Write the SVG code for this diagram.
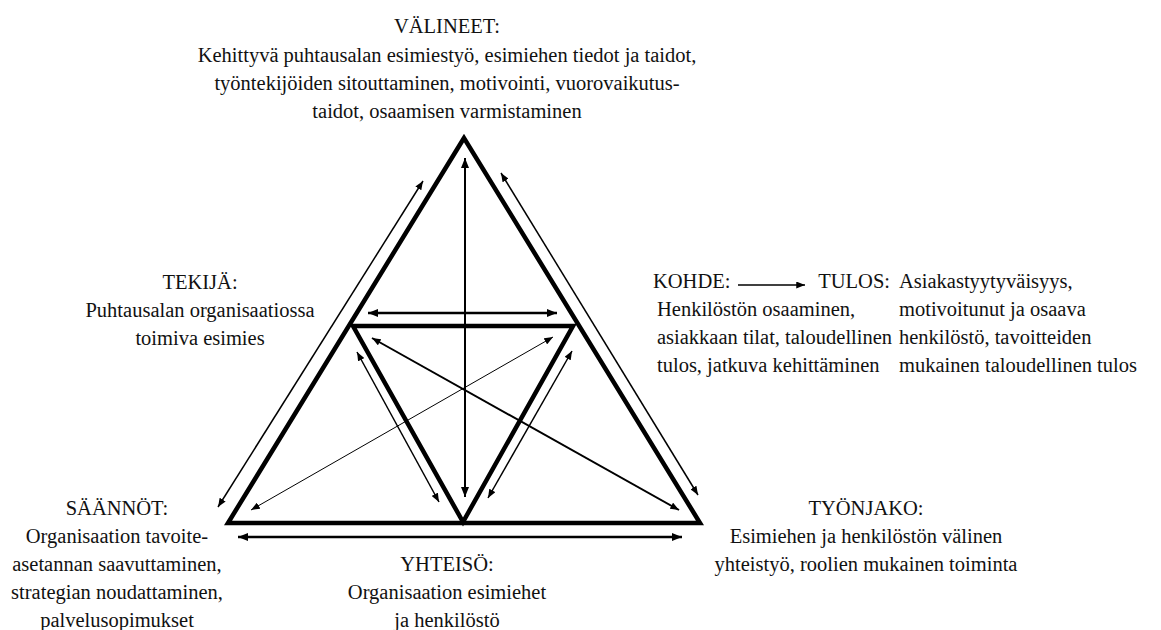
<svg xmlns="http://www.w3.org/2000/svg" width="1161" height="630" viewBox="0 0 1161 630">
<style>
text{font-family:"Liberation Serif","Times New Roman",serif;font-size:20.5px;fill:#111}
.c{text-anchor:middle}
.e{text-anchor:end}
.tri{fill:none;stroke:#000;stroke-width:4.5;stroke-linejoin:miter}
.a{stroke:#000;fill:none}
.w1{stroke-width:1}
.w15{stroke-width:1.5}
.w2{stroke-width:2}
.w25{stroke-width:2.5}
</style>
<defs>
<marker id="ah" viewBox="0 0 10 8" refX="10" refY="4" markerWidth="11" markerHeight="8" markerUnits="userSpaceOnUse" orient="auto-start-reverse"><path d="M0,0 L10,4 L0,8 z" fill="#000"/></marker>
<marker id="as" viewBox="0 0 10 8" refX="10" refY="4" markerWidth="9" markerHeight="7" markerUnits="userSpaceOnUse" orient="auto-start-reverse"><path d="M0,0 L10,4 L0,8 z" fill="#000"/></marker>
</defs>
<g id="outer-triangle"><polygon class="tri" points="464,138 228,523 700,523"/></g>
<g id="inner-triangle"><polygon class="tri" points="353,326 573,326 463,522"/></g>
<g id="connectors">
<line class="a w2" x1="465" y1="158" x2="465" y2="497" marker-start="url(#ah)" marker-end="url(#ah)"/>
<line class="a w25" x1="368" y1="313" x2="557" y2="313" marker-start="url(#ah)" marker-end="url(#ah)"/>
<line class="a w25" x1="238" y1="537" x2="682" y2="537" marker-start="url(#ah)" marker-end="url(#ah)"/>
<line class="a w15" x1="218" y1="507" x2="423" y2="181" marker-start="url(#as)" marker-end="url(#as)"/>
<line class="a w15" x1="501" y1="173" x2="698" y2="495" marker-start="url(#as)" marker-end="url(#as)"/>
<line class="a w15" x1="357" y1="352" x2="439" y2="502" marker-start="url(#as)" marker-end="url(#as)"/>
<line class="a w15" x1="572" y1="351" x2="488" y2="498" marker-start="url(#as)" marker-end="url(#as)"/>
<line class="a w1" x1="251" y1="510" x2="553" y2="337" marker-start="url(#as)" marker-end="url(#as)"/>
<line class="a w2" x1="372" y1="338" x2="679" y2="510" marker-start="url(#as)" marker-end="url(#as)"/>
<line class="a w15" x1="738" y1="285" x2="805" y2="285" marker-end="url(#as)"/>
</g>
<g id="valineet">
<text class="c" x="447" y="33">VÄLINEET:</text>
<text class="c" x="447" y="62">Kehittyvä puhtausalan esimiestyö, esimiehen tiedot ja taidot,</text>
<text class="c" x="447" y="90">työntekijöiden sitouttaminen, motivointi, vuorovaikutus-</text>
<text class="c" x="447" y="118">taidot, osaamisen varmistaminen</text>
</g>
<g id="tekija">
<text class="c" x="200" y="289">TEKIJÄ:</text>
<text class="c" x="200" y="317">Puhtausalan organisaatiossa</text>
<text class="c" x="200" y="345">toimiva esimies</text>
</g>
<g id="kohde">
<text x="653" y="288">KOHDE:</text>
<text x="657" y="316">Henkilöstön osaaminen,</text>
<text x="657" y="344">asiakkaan tilat, taloudellinen</text>
<text x="657" y="372">tulos, jatkuva kehittäminen</text>
</g>
<g id="tulos">
<text class="e" x="890" y="288">TULOS:</text>
<text x="899" y="288">Asiakastyytyväisyys,</text>
<text x="899" y="316">motivoitunut ja osaava</text>
<text x="899" y="344">henkilöstö, tavoitteiden</text>
<text x="899" y="372">mukainen taloudellinen tulos</text>
</g>
<g id="saannot">
<text class="c" x="117" y="515">SÄÄNNÖT:</text>
<text class="c" x="117" y="543">Organisaation tavoite-</text>
<text class="c" x="117" y="571">asetannan saavuttaminen,</text>
<text class="c" x="117" y="599">strategian noudattaminen,</text>
<text class="c" x="117" y="627">palvelusopimukset</text>
</g>
<g id="yhteiso">
<text class="c" x="447" y="571">YHTEISÖ:</text>
<text class="c" x="447" y="599">Organisaation esimiehet</text>
<text class="c" x="447" y="627">ja henkilöstö</text>
</g>
<g id="tyonjako">
<text class="c" x="866" y="515">TYÖNJAKO:</text>
<text class="c" x="866" y="543">Esimiehen ja henkilöstön välinen</text>
<text class="c" x="866" y="571">yhteistyö, roolien mukainen toiminta</text>
</g>
</svg>
